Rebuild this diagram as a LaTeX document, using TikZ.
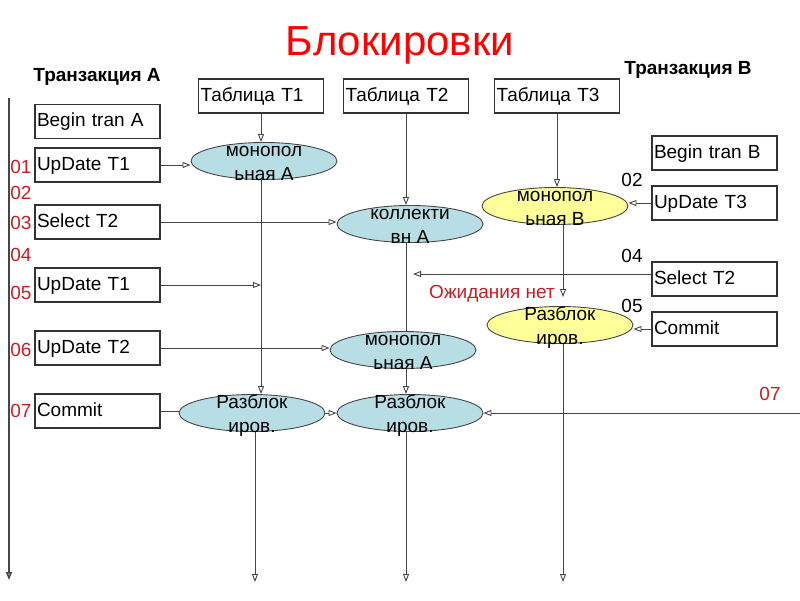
\documentclass[tikz,border=0pt]{standalone}
\usepackage{fontspec}
\setmainfont{Liberation Sans}
\usetikzlibrary{shapes.geometric,arrows.meta}
\definecolor{lockblue}{RGB}{183,222,228}
\definecolor{lockyellow}{RGB}{255,255,153}
\definecolor{numred}{RGB}{200,30,35}
\definecolor{linegray}{RGB}{70,70,70}

\begin{document}
\begin{tikzpicture}[x=1pt,y=-1pt,
		box/.style={draw=black!80,line width=1.3pt,minimum width=125pt,minimum height=34pt,
			text width=121pt,inner xsep=2pt,align=left,text height=14pt,text depth=4pt,
			font=\fontsize{19}{23}\selectfont},
		lock/.style={ellipse,draw=linegray,line width=0.9pt,minimum width=146pt,minimum height=37pt,inner sep=0pt},
		etxt/.style={font=\fontsize{19}{24}\selectfont,align=center,inner sep=0pt,yshift=-3pt},
		num/.style={font=\fontsize{19}{23}\selectfont,inner sep=0pt},
		conn/.style={draw=linegray,line width=0.9pt},
		arr/.style={conn,-{Triangle[open,length=8pt,width=6pt]}}]
		\useasboundingbox (0,0) rectangle (800,600);
		\node[anchor=base,text=red,font=\fontsize{42}{50}\selectfont] (title) at (400,55) {Блокировки};
		\node[font=\bfseries\fontsize{19}{23}\selectfont] (hA) at (97,77) {Транзакция А};
		\node[font=\bfseries\fontsize{19}{23}\selectfont] (hB) at (688,70) {Транзакция В};
		% tables
		\node[box] (t1) at (261,96) {Таблица T1};
		\node[box] (t2) at (406,96) {Таблица T2};
		\node[box] (t3) at (557,96) {Таблица T3};
		% transaction A
		\node[box] (bA) at (97.5,121.5) {Begin tran A};
		\node[box] (uA1) at (97.5,165) {UpDate T1};
		\node[box] (sA) at (97.5,222) {Select T2};
		\node[box] (uA2) at (97.5,285) {UpDate T1};
		\node[box] (uA3) at (97.5,348) {UpDate T2};
		\node[box] (cA) at (97.5,411) {Commit};
		% transaction B
		\node[box] (bB) at (714.5,153) {Begin tran B};
		\node[box] (uB) at (714.5,203) {UpDate T3};
		\node[box] (sB) at (714.5,279) {Select T2};
		\node[box] (cB) at (714.5,329) {Commit};
		% locks
		\node[lock,fill=lockblue,label={[etxt]center:{\strut монопол\\\strut ьная А}}] (m1) at (264,161) {};
		\node[lock,fill=lockblue,label={[etxt]center:{\strut коллекти\\\strut вн А}}] (k2) at (410,224) {};
		\node[lock,fill=lockyellow,label={[etxt]center:{\strut монопол\\\strut ьная В}}] (mB) at (555,206) {};
		\node[lock,fill=lockyellow,label={[etxt]center:{\strut Разблок\\\strut иров.}}] (rB) at (560,325) {};
		\node[lock,fill=lockblue,label={[etxt]center:{\strut монопол\\\strut ьная А}}] (m2) at (403,350) {};
		\node[lock,fill=lockblue,label={[etxt]center:{\strut Разблок\\\strut иров.}}] (r1) at (252,413) {};
		\node[lock,fill=lockblue,label={[etxt]center:{\strut Разблок\\\strut иров.}}] (r2) at (410,413) {};
		% time labels
		\node[num,text=numred] (n1) at (21,167) {01};
		\node[num,text=numred] (n2) at (21,193) {02};
		\node[num,text=numred] (n3) at (21,223) {03};
		\node[num,text=numred] (n4) at (21,255) {04};
		\node[num,text=numred] (n5) at (21,293) {05};
		\node[num,text=numred] (n6) at (21,350) {06};
		\node[num,text=numred] (n7) at (21,411) {07};
		\node[num] (nB2) at (632,180) {02};
		\node[num] (nB4) at (632,256) {04};
		\node[num] (nB5) at (632,306) {05};
		\node[num,text=numred] (nB7) at (770,394) {07};
		\node[num,text=numred,anchor=base] (wait) at (492,298) {Ожидания нет};
		% time axis
		\coordinate (tA0) at (9,98);
		\coordinate (tA1) at (9,580);
		\draw[arr,line width=1.6pt] (tA0) -- (tA1);
		% column T1
		\draw[arr] (t1.south) -- (t1.south |- m1.north);
		\draw[arr] (m1.south -| t1.south) -- (r1.north -| t1.south);
		\coordinate (w1) at (261,285);
		\draw[arr] (uA2.east) -- (w1);
		\coordinate (b1) at (255,582);
		\draw[arr] (r1.south -| b1) -- (b1);
		% column T2
		\draw[arr] (t2.south) -- (t2.south |- k2.north);
		\draw[conn] (k2.south -| t2.south) -- (m2.north -| t2.south);
		\draw[arr] (m2.south -| t2.south) -- (r2.north -| t2.south);
		\coordinate (b2) at (406,582);
		\draw[arr] (r2.south -| b2) -- (b2);
		% column T3
		\draw[arr] (t3.south) -- (t3.south |- mB.north);
		\coordinate (wB) at (563,297);
		\draw[arr] (mB.south -| wB) -- (wB);
		\coordinate (b3) at (563,582);
		\draw[arr] (rB.south -| b3) -- (b3);
		% requests
		\draw[arr] (uA1.east) -- (uA1.east -| m1.west);
		\draw[arr] (sA.east) -- (sA.east -| k2.west);
		\draw[arr] (uA3.east) -- (uA3.east -| m2.west);
		\draw[conn] (cA.east) -- (cA.east -| r1.west);
		\draw[arr] (r1.east) -- (r2.west);
		\draw[arr] (uB.west) -- (uB.west -| mB.east);
		\coordinate (wS) at (413,274);
		\draw[arr] (sB.west |- wS) -- (wS);
		\draw[arr] (cB.west) -- (cB.west -| rB.east);
		\coordinate (e7) at (800,413);
		\draw[arr] (e7) -- (r2.east);
	\end{tikzpicture}
\end{document}
